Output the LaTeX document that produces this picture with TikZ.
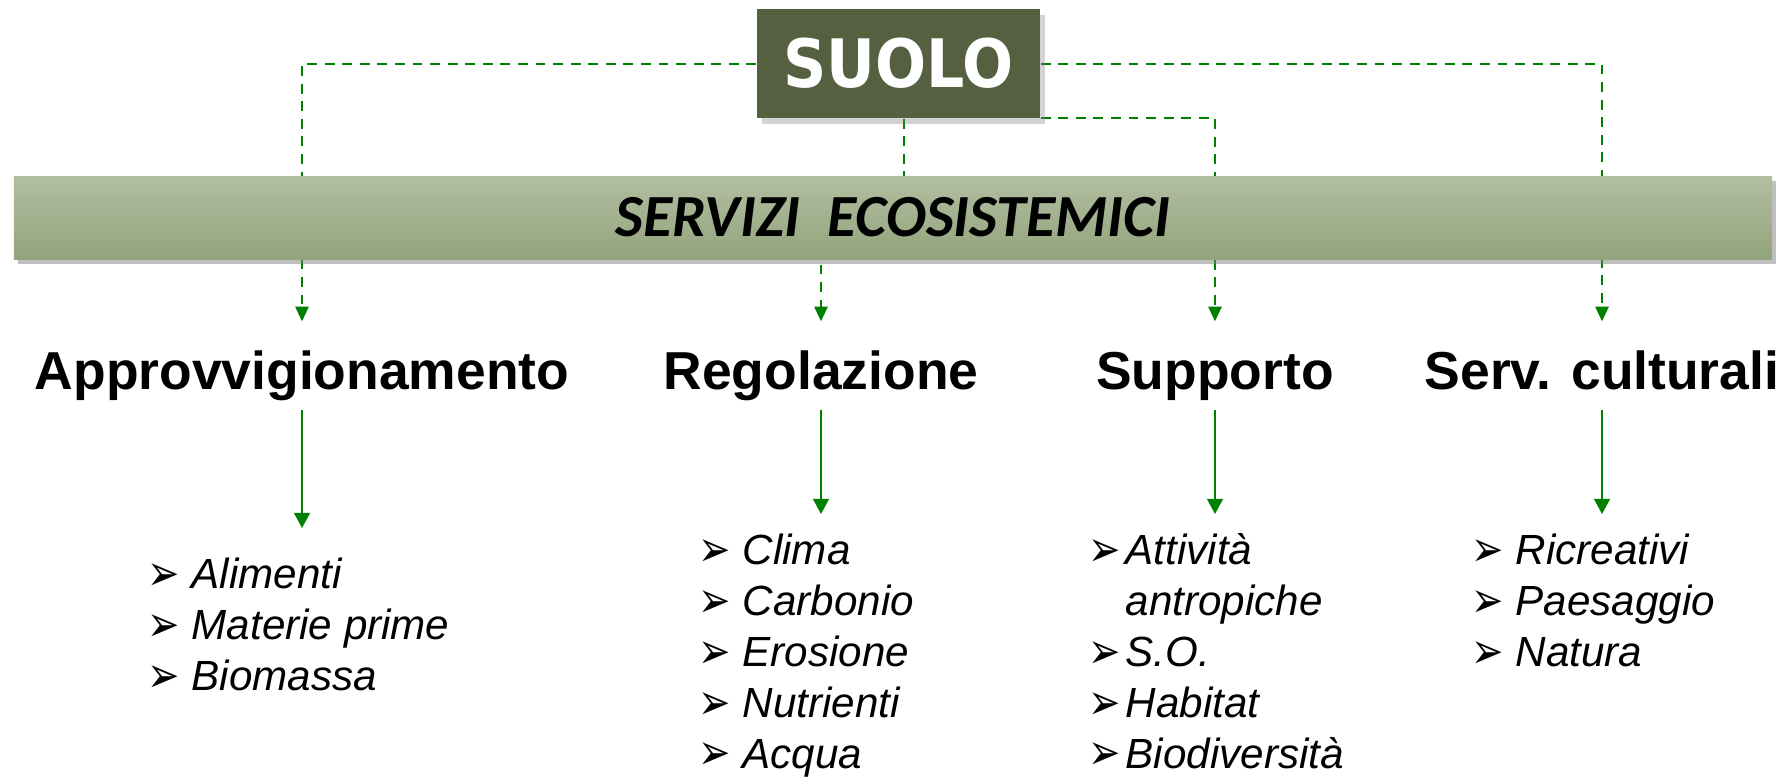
\documentclass[tikz,border=0pt]{standalone}
\usepackage{fontspec}
\setmainfont{Liberation Sans}
\newfontfamily\suolofont{DejaVu Sans Condensed}
\newfontfamily\bandfont{Carlito}
\newfontfamily\bulletfont{DejaVu Sans}
\usetikzlibrary{arrows.meta, shadows, backgrounds}

\definecolor{suologreen}{RGB}{85,96,64}
\definecolor{linkgreen}{RGB}{0,128,0}
\definecolor{bandtop}{RGB}{178,190,161}
\definecolor{bandbottom}{RGB}{146,164,124}

\newcommand{\itm}{\raisebox{-0.5pt}{\scalebox{1}[1.3]{\bulletfont\fontsize{11}{12}\selectfont ➢}}}

\begin{document}
\begin{tikzpicture}[
    link/.style = {draw=linkgreen, line width=0.57pt, dash pattern=on 2.8pt off 2.2pt,
                   -{Triangle[width=3.8pt, length=4.2pt]}},
    flow/.style = {draw=linkgreen, line width=0.57pt, -{Triangle[width=4.5pt, length=4.3pt]}},
    heading/.style = {anchor=base, font=\fontsize{15.2}{18}\bfseries\selectfont,
                      inner sep=0.15cm, text height=0.4cm, text depth=0.05cm},
    itemlist/.style = {anchor=north west, inner sep=0pt, align=left,
                       font=\fontsize{12}{14.5}\itshape\selectfont}
]

    \useasboundingbox (0, 0) rectangle (17.81, -7.79);

    % --- Top: soil box and ecosystem services band ---
    \node[fill=suologreen, text=white, minimum width=2.83cm, minimum height=1.09cm,
          font=\suolofont\fontsize{19}{22}\bfseries\selectfont,
          drop shadow={shadow xshift=0.05cm, shadow yshift=-0.06cm, opacity=0.35}]
        (suolo) at (8.985, -0.635) {SUOLO};

    \node[top color=bandtop, bottom color=bandbottom, minimum width=17.58cm, minimum height=0.83cm,
          font=\bandfont\fontsize{17}{20}\bfseries\itshape\selectfont,
          drop shadow={shadow xshift=0.04cm, shadow yshift=-0.05cm, opacity=0.5}]
        (band) at (8.93, -2.175) {SERVIZI\ \ ECOSISTEMICI};

    % --- Service categories ---
    \node[heading] (approv) at (3.02, -3.89) {Approvvigionamento};
    \node[heading] (regol)  at (8.21, -3.89) {Regolazione};
    \node[heading] (suppo)  at (12.15, -3.89) {Supporto};
    \node[heading] (cult)   at (16.02, -3.89) {Serv. culturali};

    % --- Lists ---
    \node[itemlist] (approvlist) at (1.47, -5.52) {%
        \begin{tabular}{@{}p{0.44cm}@{}l@{}}
            \itm & Alimenti \\
            \itm & Materie prime \\
            \itm & Biomassa
        \end{tabular}};
    \node[itemlist] (regollist) at (6.98, -5.28) {%
        \begin{tabular}{@{}p{0.44cm}@{}l@{}}
            \itm & Clima \\
            \itm & Carbonio \\
            \itm & Erosione \\
            \itm & Nutrienti \\
            \itm & Acqua
        \end{tabular}};
    \node[itemlist] (suppolist) at (10.88, -5.28) {%
        \begin{tabular}{@{}p{0.37cm}@{}l@{}}
            \itm & Attività \\
                 & antropiche \\
            \itm & S.O. \\
            \itm & Habitat \\
            \itm & Biodiversità
        \end{tabular}};
    \node[itemlist] (cultlist) at (14.71, -5.28) {%
        \begin{tabular}{@{}p{0.44cm}@{}l@{}}
            \itm & Ricreativi \\
            \itm & Paesaggio \\
            \itm & Natura
        \end{tabular}};

    % --- Dashed links from SUOLO (behind the band) ---
    \begin{scope}[on background layer]
        \draw[link, shorten >=0.12cm] (suolo.west) -| (approv.north);
        \draw[link, shorten >=0.12cm] ([xshift=0.05cm]suolo.south) |- (band.center -| regol.north) -- (regol.north);
        \draw[link, shorten >=0.12cm] ([yshift=0.01cm]suolo.south east) -| (suppo.north);
        \draw[link, shorten >=0.12cm] (suolo.east) -| (cult.north);
    \end{scope}

    % --- Solid arrows to the lists ---
    \draw[flow, shorten >=0.24cm] (approv.south) -- (approv.south |- approvlist.north);
    \draw[flow, shorten >=0.14cm] (regol.south) -- (regol.south |- regollist.north);
    \draw[flow, shorten >=0.14cm] (suppo.south) -- (suppo.south |- suppolist.north);
    \draw[flow, shorten >=0.14cm] (cult.south) -- (cult.south |- cultlist.north);

\end{tikzpicture}
\end{document}
